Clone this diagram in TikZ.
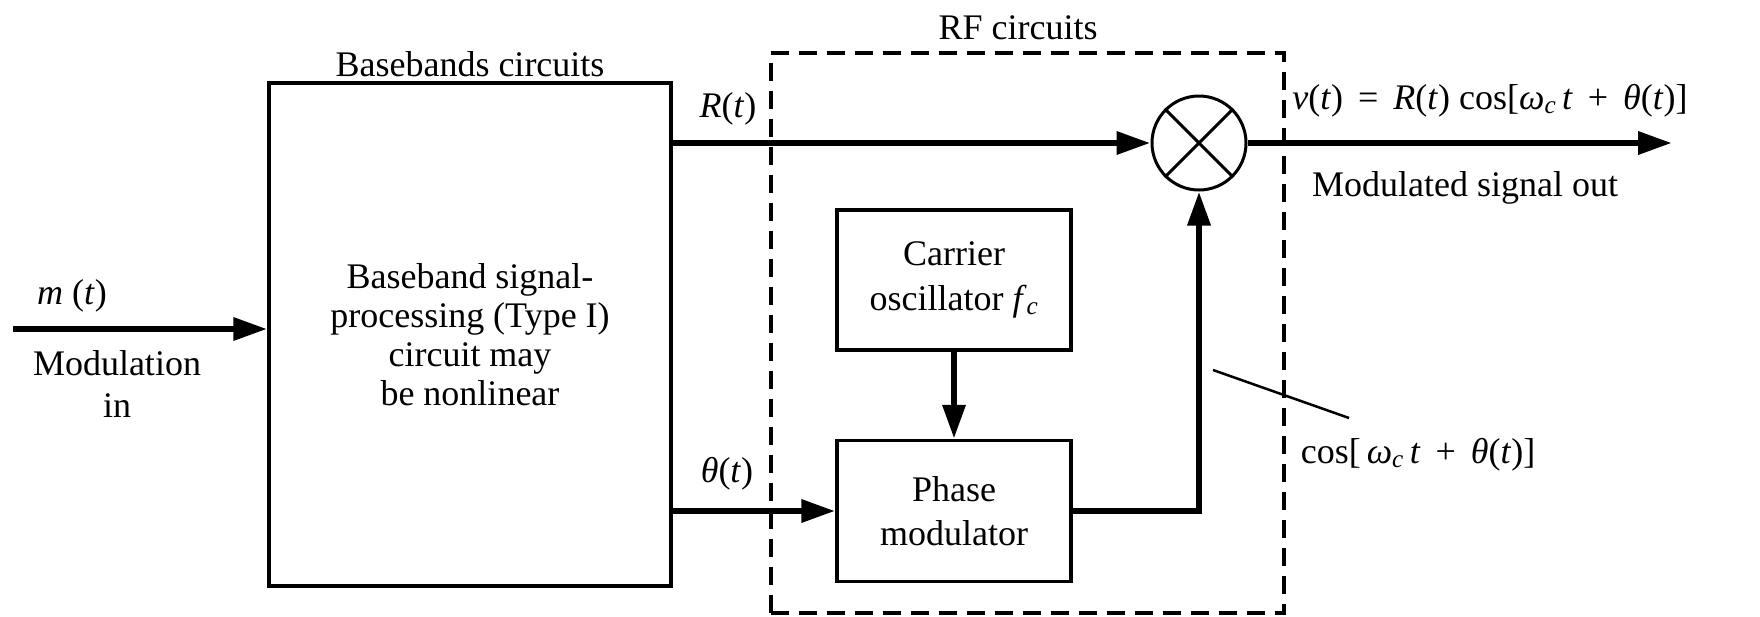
\documentclass[tikz,border=0pt]{standalone}
\usepackage{fontspec}
\setmainfont{Liberation Serif}
\usetikzlibrary{arrows.meta}
\newcommand{\vi}[1]{\textit{#1}}
\begin{document}
\begin{tikzpicture}[x=1pt,y=-1pt,
  txt/.style={inner sep=0pt, font=\fontsize{36}{40}\selectfont, align=center},
  blk/.style={draw, line width=3.5pt, inner sep=0pt, font=\fontsize{36}{39}\selectfont, align=center},
  rfbox/.style={draw, line width=3.2pt, dash pattern=on 18pt off 10pt, inner sep=0pt},
  sig/.style={line width=6.5pt, -{Triangle[length=34pt,width=22pt]}},
  thinline/.style={line width=2.5pt}
]
\useasboundingbox (0,0) rectangle (1760,616);
\fill[white] (0,0) rectangle (1760,616);

% boxes
\node[blk, minimum width=402pt, minimum height=503pt] (bb) at (470,334.5)
  {Baseband signal-\\processing (Type I)\\circuit may\\be nonlinear};
\node[rfbox, minimum width=513pt, minimum height=560pt] (rf) at (1027.5,333) {};
\node[blk, minimum width=234pt, minimum height=140pt, font=\fontsize{36}{45}\selectfont] (co) at (954,280)
  {Carrier\\oscillator \vi{f}\textsubscript{\vi{c}}};
\node[blk, minimum width=234pt, minimum height=141pt, font=\fontsize{36}{44}\selectfont] (pm) at (954,511)
  {Phase\\modulator};
\node[draw, circle, line width=3pt, minimum size=94pt, inner sep=0pt] (mix) at (1199,143) {};
\draw[line width=3pt] (mix.north west) -- (mix.south east);
\draw[line width=3pt] (mix.north east) -- (mix.south west);

% labels
\node[txt] (lbb) at (470,64) {Basebands circuits};
\node[txt] (lrf) at (1018,28) {RF circuits};
\node[txt] (lm) at (72,296) {\vi{m} (\vi{t})};
\node[txt, font=\fontsize{36}{42}\selectfont] (lmod) at (117,384) {Modulation\\in};
\node[txt] (lR) at (728,109) {\vi{R}(\vi{t})};
\node[txt] (lth) at (727,474) {\vi{θ}(\vi{t})};
\node[txt] (lv) at (1490,101) {\vi{v}(\vi{t}) \,=\, \vi{R}(\vi{t}) cos[\vi{ω}\textsubscript{\vi{c}}\,\vi{t} \,+\, \vi{θ}(\vi{t})]};
\node[txt] (lout) at (1465,188) {Modulated signal out};
\node[txt] (lcos) at (1418,455) {cos[\,\vi{ω}\textsubscript{\vi{c}}\,\vi{t} \,+\, \vi{θ}(\vi{t})]};

% connectors
\coordinate (min) at (13,329);
\coordinate (vout) at (1672,143);
\coordinate (ld1) at (1213,370);
\coordinate (ld2) at (1349,418);
\draw[sig] (min) -- (bb.west |- min);
\draw[sig] (bb.east |- mix) -- (mix.west);
\draw[sig] (mix.east) -- (vout);
\draw[sig] (bb.east |- pm) -- (pm.west);
\draw[sig] (co.south) -- (pm.north);
\draw[sig] (pm.east) -| (mix.south);
\draw[thinline] (ld1) -- (ld2);
\end{tikzpicture}
\end{document}
